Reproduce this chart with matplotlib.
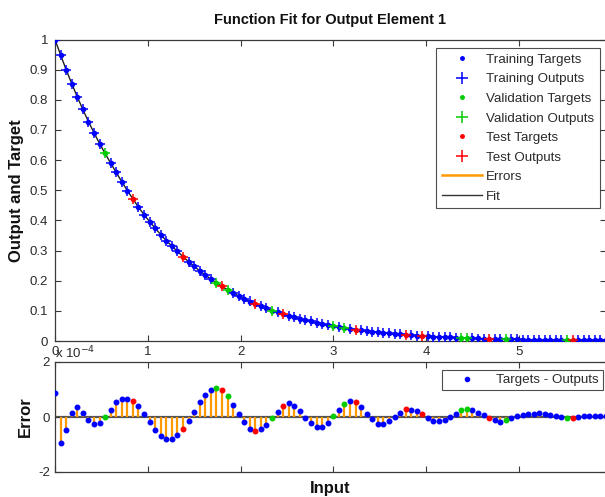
import numpy as np
import matplotlib
matplotlib.use('Agg')
import matplotlib.pyplot as plt
from matplotlib.lines import Line2D

plt.rcParams['font.family'] = ['Liberation Sans', 'DejaVu Sans']
plt.rcParams['axes.unicode_minus'] = False

inputs = [0.00, 0.06, 0.12, 0.18, 0.24, 0.30, 0.36, 0.42, 0.48, 0.54,
          0.60, 0.66, 0.72, 0.78, 0.84, 0.90, 0.96, 1.02, 1.08, 1.14,
          1.20, 1.26, 1.32, 1.38, 1.44, 1.50, 1.56, 1.62, 1.68, 1.74,
          1.80, 1.86, 1.92, 1.98, 2.04, 2.10, 2.16, 2.22, 2.28, 2.34,
          2.40, 2.46, 2.52, 2.58, 2.64, 2.70, 2.76, 2.82, 2.88, 2.94,
          3.00, 3.06, 3.12, 3.18, 3.24, 3.30, 3.36, 3.42, 3.48, 3.54,
          3.60, 3.66, 3.72, 3.78, 3.84, 3.90, 3.96, 4.02, 4.08, 4.14,
          4.20, 4.26, 4.32, 4.38, 4.44, 4.50, 4.56, 4.62, 4.68, 4.74,
          4.80, 4.86, 4.92, 4.98, 5.04, 5.10, 5.16, 5.22, 5.28, 5.34,
          5.40, 5.46, 5.52, 5.58, 5.64, 5.70, 5.76, 5.82, 5.88, 5.94]

targets = [1.000, 0.949, 0.900, 0.854, 0.810, 0.768, 0.728, 0.691, 0.655, 0.622,
           0.590, 0.559, 0.528, 0.499, 0.471, 0.444, 0.419, 0.396, 0.374, 0.353,
           0.333, 0.315, 0.297, 0.280, 0.263, 0.248, 0.233, 0.219, 0.206, 0.193,
           0.181, 0.170, 0.159, 0.149, 0.140, 0.131, 0.123, 0.115, 0.108, 0.101,
           0.095, 0.089, 0.084, 0.078, 0.074, 0.069, 0.065, 0.061, 0.057, 0.053,
           0.050, 0.0466, 0.0435, 0.0406, 0.0379, 0.0354, 0.0330, 0.0308, 0.0287, 0.0268,
           0.0250, 0.0234, 0.0218, 0.0204, 0.0190, 0.0177, 0.0166, 0.0155, 0.0144, 0.0135,
           0.0126, 0.0117, 0.0110, 0.0102, 0.0095, 0.0089, 0.0083, 0.0077, 0.0072, 0.0067,
           0.0063, 0.0059, 0.0055, 0.0051, 0.0048, 0.0045, 0.0042, 0.0039, 0.0036, 0.0034,
           0.0032, 0.0030, 0.0028, 0.0026, 0.0024, 0.0022, 0.0021, 0.0019, 0.0018, 0.0017]

# errors (targets - outputs) in units of 1e-4
errors_e4 = [0.89, -0.95, -0.46, 0.16, 0.37, 0.16, -0.12, -0.27, -0.21, 0.00,
             0.27, 0.55, 0.65, 0.67, 0.60, 0.40, 0.12, -0.18, -0.46, -0.68,
             -0.79, -0.79, -0.65, -0.42, -0.16, 0.17, 0.53, 0.81, 0.97, 1.07,
             0.97, 0.75, 0.42, 0.12, -0.18, -0.45, -0.51, -0.45, -0.30, -0.02,
             0.20, 0.40, 0.50, 0.41, 0.23, -0.02, -0.21, -0.38, -0.38, -0.21,
             0.02, 0.24, 0.46, 0.59, 0.55, 0.37, 0.12, -0.09, -0.24, -0.24,
             -0.16, 0.00, 0.15, 0.28, 0.27, 0.22, 0.10, -0.04, -0.16, -0.16,
             -0.12, 0.00, 0.12, 0.24, 0.28, 0.27, 0.16, 0.06, -0.04, -0.12,
             -0.17, -0.12, -0.04, 0.04, 0.09, 0.11, 0.12, 0.13, 0.10, 0.06,
             0.02, -0.01, -0.02, -0.03, 0.00, 0.02, 0.02, 0.02, 0.02, 0.03]

val_idx = [9, 29, 31, 39, 50, 52, 73, 74, 81, 92]
test_idx = [14, 23, 30, 36, 41, 54, 63, 66, 78, 93]

x = np.array(inputs)
t = np.array(targets)
e_scaled = np.array(errors_e4)
e = e_scaled * 1e-4
y = t - e
n = len(x)
is_val = np.zeros(n, bool); is_val[val_idx] = True
is_test = np.zeros(n, bool); is_test[test_idx] = True
is_train = ~(is_val | is_test)

BLUE = '#0000ff'
GREEN = '#00cc00'
RED = '#ff0000'
ORANGE = '#ff9900'
FRAME = '#3a3a3a'
TXT = '#2a2a2a'
W, H = 605, 497

fig = plt.figure(figsize=(W / 100, H / 100), dpi=100)
fig.patch.set_facecolor('white')

def px_rect(l, top, r, bottom):
    return [l / W, 1 - bottom / H, (r - l) / W, (bottom - top) / H]

ax1 = fig.add_axes(px_rect(55, 39.5, 606, 341))
ax2 = fig.add_axes(px_rect(55, 362, 606, 472))

# --- top plot ---
ax1.vlines(x, y, t, color=ORANGE, lw=1.5, zorder=2)
ax1.plot(x, y, color='#222222', lw=1.0, zorder=3)
sets = [(is_train, BLUE), (is_val, GREEN), (is_test, RED)]
for m, c in sets:
    ax1.plot(x[m], t[m], linestyle='none', marker='.', color=c, ms=6, zorder=4)
    ax1.plot(x[m], y[m], linestyle='none', marker='+', color=c, ms=7, mew=1.1, zorder=5)

ax1.set_xlim(0, 5.94)
ax1.set_ylim(0, 1)
ax1.set_xticks([0, 1, 2, 3, 4, 5])
ax1.set_yticks([0, 0.1, 0.2, 0.3, 0.4, 0.5, 0.6, 0.7, 0.8, 0.9, 1.0])
ax1.set_yticklabels(['0', '0.1', '0.2', '0.3', '0.4', '0.5', '0.6', '0.7', '0.8', '0.9', '1'])
ax1.set_title('Function Fit for Output Element 1', fontsize=10.5, fontweight='bold', pad=11,
              color='#111111')
ax1.set_ylabel('Output and Target', fontsize=12, fontweight='bold', labelpad=4, color='#111111')

handles = [
    Line2D([], [], ls='none', marker='.', color=BLUE, ms=5),
    Line2D([], [], ls='none', marker='+', color=BLUE, ms=9, mew=1.1),
    Line2D([], [], ls='none', marker='.', color=GREEN, ms=5),
    Line2D([], [], ls='none', marker='+', color=GREEN, ms=9, mew=1.1),
    Line2D([], [], ls='none', marker='.', color=RED, ms=5),
    Line2D([], [], ls='none', marker='+', color=RED, ms=9, mew=1.1),
    Line2D([], [], color=ORANGE, lw=1.8),
    Line2D([], [], color='#333333', lw=1.0),
]
labels = ['Training Targets', 'Training Outputs', 'Validation Targets', 'Validation Outputs',
          'Test Targets', 'Test Outputs', 'Errors', 'Fit']
leg = ax1.legend(handles, labels, loc='upper right', bbox_to_anchor=(600 / W, 1 - 48 / H),
                 bbox_transform=fig.transFigure, fontsize=9.6, frameon=True, fancybox=False,
                 edgecolor='#222222', handlelength=3.0, handletextpad=0.35,
                 labelspacing=0.54, borderpad=0.42, borderaxespad=0)
leg.get_frame().set_linewidth(0.8)
for txt in leg.get_texts():
    txt.set_color(TXT)

# --- error plot ---
ax2.axhline(0, color='#555555', lw=1.6, zorder=1)
ax2.vlines(x, 0, e_scaled, color=ORANGE, lw=1.6, zorder=2)
for m, c in sets:
    ax2.plot(x[m], e_scaled[m], linestyle='none', marker='.', color=c, ms=6.5, zorder=4)
ax2.set_xlim(0, 5.94)
ax2.set_ylim(-2, 2)
ax2.set_yticks([-2, 0, 2])
ax2.set_yticklabels(['-2', '0', '2'])
ax2.set_xticks([0, 1, 2, 3, 4, 5])
ax2.set_xticklabels([])
ax2.text(0, 1.01, r'x 10$^{-4}$', transform=ax2.transAxes, fontsize=9.5, color=TXT,
         ha='left', va='bottom')
ax2.set_ylabel('Error', fontsize=12, fontweight='bold', labelpad=4, color='#111111')
ax2.set_xlabel('Input', fontsize=12, fontweight='bold', labelpad=3, color='#111111')
leg2 = ax2.legend([Line2D([], [], ls='none', marker='.', color=BLUE, ms=6)], ['Targets - Outputs'],
                  loc='upper right', bbox_to_anchor=(603 / W, 1 - 370 / H),
                  bbox_transform=fig.transFigure, fontsize=9.6, frameon=True, fancybox=False,
                  edgecolor='#222222', handlelength=3.2, handletextpad=0.6, borderpad=0.3,
                  borderaxespad=0)
leg2.get_frame().set_linewidth(0.8)
for txt in leg2.get_texts():
    txt.set_color(TXT)

for ax in (ax1, ax2):
    for s in ax.spines.values():
        s.set_color(FRAME)
        s.set_linewidth(0.9)
    ax.tick_params(direction='in', top=True, right=True, length=4, width=0.8,
                   color=FRAME, labelcolor=TXT, labelsize=9.5)
ax1.tick_params(axis='y', pad=5)

fig.savefig('out.png', dpi=100, facecolor='white')
